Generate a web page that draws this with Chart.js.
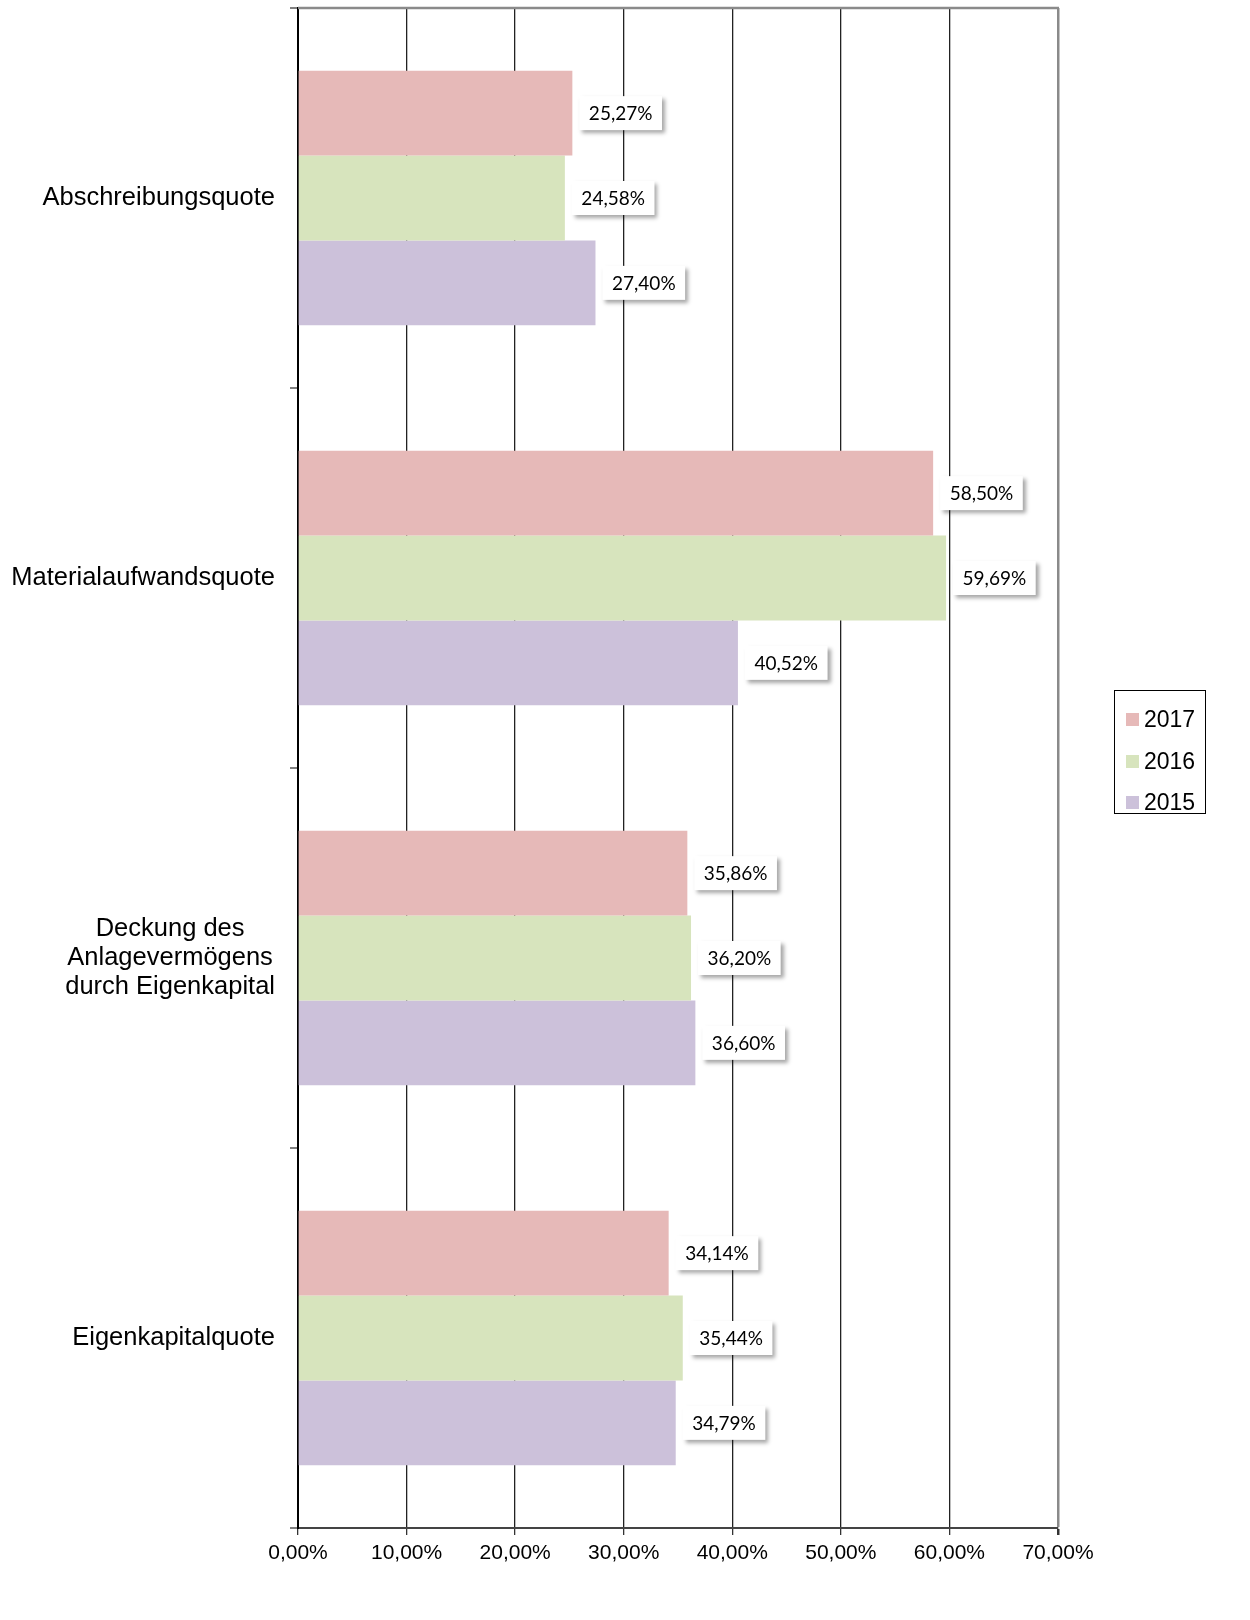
<!DOCTYPE html>
<html>
<head>
<meta charset="utf-8">
<script src="https://cdn.jsdelivr.net/npm/chart.js@4"></script>
<style>
    body { margin: 0; background: #fff; }
    #wrap { position: relative; width: 1250px; height: 1620px; }
    #legend {
        position: absolute; left: 1114px; top: 690px; width: 92px; height: 124px;
        border: 1px solid #000; box-sizing: border-box; padding-top: 8px;
        font-family: "Liberation Sans", Arial, sans-serif; font-size: 23px; color: #000;
    }
    #legend div { display: flex; align-items: center; height: 41.5px; padding-left: 11px; }
    #legend span.sw { display: inline-block; width: 13px; height: 13px; margin-right: 5px; }
</style>
</head>
<body>
<div id="wrap">
    <canvas id="quoteChart"></canvas>
    <div id="legend"></div>
</div>
<script>
// kennzahlen 2015-2017, horizontal bars

const categories = [
    'Abschreibungsquote',
    'Materialaufwandsquote',
    ['Deckung des', 'Anlagevermögens', 'durch Eigenkapital'],
    'Eigenkapitalquote'
];
const years = ['2017', '2016', '2015'];
const values2017 = [25.27, 58.50, 35.86, 34.14];
const values2016 = [24.58, 59.69, 36.20, 35.44];
const values2015 = [27.40, 40.52, 36.60, 34.79];
const xTicks = [0, 10, 20, 30, 40, 50, 60, 70];

const colors = ['#E6B9B8', '#D7E4BD', '#CCC1DA'];
const axisFont = '"Liberation Sans", Arial, sans-serif';

function pct(v) {
    return v.toFixed(2).replace('.', ',') + '%';
}

// value boxes next to the bar ends
const valueBoxes = {
    id: 'valueBoxes',
    afterDatasetsDraw(chart) {
        const ctx = chart.ctx;
        ctx.save();
        ctx.font = '19px Lato, "Open Sans", sans-serif';
        ctx.textBaseline = 'middle';
        chart.data.datasets.forEach((ds, di) => {
            const meta = chart.getDatasetMeta(di);
            meta.data.forEach((bar, i) => {
                const text = pct(ds.data[i]);
                const w = ctx.measureText(text).width + 19;
                const h = 34;
                const left = bar.x + 7;
                const top = bar.y - h / 2;
                ctx.shadowColor = 'rgba(0, 0, 0, 0.35)';
                ctx.shadowBlur = 4;
                ctx.shadowOffsetX = 3;
                ctx.shadowOffsetY = 3;
                ctx.fillStyle = '#fff';
                ctx.fillRect(left, top, w, h);
                ctx.shadowColor = 'transparent';
                ctx.fillStyle = '#000';
                ctx.textAlign = 'left';
                ctx.fillText(text, left + 9.5, bar.y + 1);
            });
        });
        ctx.restore();
    }
};

// category labels, centred lines, right edge at the axis
const categoryLabels = {
    id: 'categoryLabels',
    afterDraw(chart) {
        const ctx = chart.ctx;
        const yScale = chart.scales.y;
        const right = yScale.right - 23;
        const lineH = 29;
        ctx.save();
        ctx.font = '25.5px ' + axisFont;
        ctx.fillStyle = '#000';
        ctx.textAlign = 'center';
        ctx.textBaseline = 'middle';
        categories.forEach((cat, i) => {
            const lines = Array.isArray(cat) ? cat : [cat];
            const maxW = Math.max(...lines.map(l => ctx.measureText(l).width));
            const cx = right - maxW / 2;
            const cy = yScale.getPixelForValue(i);
            const start = cy - (lines.length - 1) * lineH / 2;
            lines.forEach((l, k) => ctx.fillText(l, cx, start + k * lineH));
        });
        ctx.restore();
    }
};

// grey top edge of the plot area
const topEdge = {
    id: 'topEdge',
    afterDraw(chart) {
        const a = chart.chartArea;
        const ctx = chart.ctx;
        ctx.save();
        ctx.strokeStyle = '#8a8a8a';
        ctx.lineWidth = 2.5;
        ctx.beginPath();
        ctx.moveTo(a.left, a.top);
        ctx.lineTo(a.right + 1, a.top);
        ctx.stroke();
        ctx.restore();
    }
};

const ctx = document.getElementById('quoteChart').getContext('2d');

const chart = new Chart(ctx, {
    type: 'bar',
    data: {
        labels: categories,
        datasets: [
            { label: years[0], data: values2017, backgroundColor: colors[0] },
            { label: years[1], data: values2016, backgroundColor: colors[1] },
            { label: years[2], data: values2015, backgroundColor: colors[2] }
        ]
    },
    options: {
        indexAxis: 'y',
        responsive: true,
        maintainAspectRatio: false,
        animation: false,
        categoryPercentage: 0.67,
        barPercentage: 1.0,
        layout: { padding: { top: 8, right: 192, left: 0, bottom: 0 } },
        scales: {
            x: {
                min: 0,
                max: 70,
                afterBuildTicks: (scale) => { scale.ticks = xTicks.map(v => ({ value: v })); },
                afterFit: (scale) => { scale.height = 92; },
                ticks: {
                    color: '#000',
                    font: { family: axisFont, size: 21 },
                    padding: 6,
                    maxRotation: 0,
                    autoSkip: false,
                    callback: (v) => pct(v)
                },
                grid: {
                    color: (c) => c.tick && c.tick.value === 70 ? '#8a8a8a' : '#222',
                    lineWidth: (c) => c.tick && c.tick.value === 70 ? 2.5 : 1.3,
                    tickColor: '#333',
                    tickLength: 7
                },
                border: { color: '#444', width: 2 }
            },
            y: {
                afterFit: (scale) => { scale.width = 298; },
                ticks: { display: false },
                grid: {
                    drawOnChartArea: false,
                    drawTicks: true,
                    tickLength: 8,
                    tickColor: '#808080',
                    lineWidth: 2
                },
                border: { color: '#000', width: 2 }
            }
        },
        plugins: {
            legend: { display: false },
            tooltip: { enabled: false }
        }
    },
    plugins: [valueBoxes, categoryLabels, topEdge]
});

// html legend from the dataset list
const legendEl = document.getElementById('legend');
chart.data.datasets.forEach(ds => {
    const row = document.createElement('div');
    row.innerHTML = `<span class="sw" style="background:${ds.backgroundColor}"></span>${ds.label}`;
    legendEl.appendChild(row);
});
</script>
</body>
</html>
